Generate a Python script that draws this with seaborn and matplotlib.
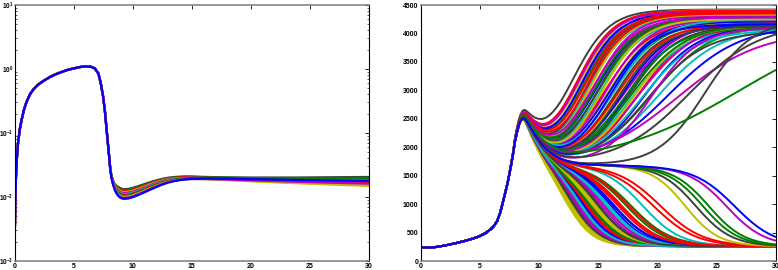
import numpy as np
import pandas as pd
import matplotlib
matplotlib.use("Agg")
import matplotlib.pyplot as plt
import seaborn as sns
from matplotlib.ticker import FixedLocator, FuncFormatter, LogLocator, NullFormatter

# ---------------- data: left panel (log scale) ----------------
left_t = [0, 0.03, 0.07, 0.12, 0.2, 0.3, 0.45, 0.6, 0.8, 1.0, 1.3, 1.6, 2.0, 2.5, 3.0,
          3.5, 4.0, 4.5, 5.0, 5.5, 6.0, 6.5, 6.8, 7.1, 7.3, 7.5, 7.65, 7.8, 7.9, 8.0,
          8.1, 8.2, 8.35, 8.5, 8.7, 8.9, 9.1, 9.3, 9.6, 10, 10.5, 11, 11.5, 12, 12.5,
          13, 13.5, 14, 14.5, 15, 16, 17, 18, 19, 20, 22, 24, 26, 28, 30]
left_base = [0.0009, 0.003, 0.009, 0.02, 0.04, 0.07, 0.115, 0.16, 0.23, 0.30, 0.40,
             0.48, 0.57, 0.66, 0.75, 0.83, 0.90, 0.97, 1.02, 1.07, 1.10, 1.08, 1.02,
             0.85, 0.60, 0.37, 0.22, 0.11, 0.07, 0.045, 0.028, 0.021, 0.0165, 0.014,
             0.0125, 0.0116, 0.0111, 0.0110, 0.0111, 0.0116, 0.0125, 0.0136, 0.0148,
             0.0160, 0.0172, 0.0182, 0.0189, 0.0194, 0.0197, 0.0198, 0.0197, 0.0195,
             0.0193, 0.0191, 0.0189, 0.0186, 0.0183, 0.0181, 0.0179, 0.0177]
left_dip_offset = [0.08, 0.065, 0.05, 0.035, 0.02, 0.005, -0.01, -0.025, -0.04, -0.055, -0.07]
left_end_offset = [0.065, 0.04, 0.025, -0.06, 0.0, 0.015, -0.025, 0.05, -0.075, -0.04, 0.005]
left_colors = ['k', 'g', 'r', 'y', 'm', 'c', 'r', 'g', 'y', 'm', 'b']

# ---------------- data: right panel (linear scale) ----------------
right_t = [0, 0.5, 1, 1.5, 2, 2.5, 3, 3.5, 4, 4.5, 5, 5.5, 6, 6.25, 6.5, 6.75, 7, 7.2,
           7.4, 7.6, 7.8, 8.0, 8.15, 8.3, 8.45, 8.6, 8.75, 8.9, 9.05, 9.2, 9.4, 9.6,
           9.8, 10, 10.3, 10.6, 10.9, 11.2, 11.5, 11.8, 12.1, 12.4, 12.7, 13, 13.5, 14,
           14.5, 15, 15.5, 16, 16.5, 17, 17.5, 18, 18.5, 19, 19.5, 20, 20.5, 21, 21.5,
           22, 22.5, 23, 23.5, 24, 24.5, 25, 25.5, 26, 26.5, 27, 27.5, 28, 28.5, 29,
           29.5, 30]
right_base = [240, 236, 238, 252, 270, 292, 315, 340, 368, 400, 437, 490, 570, 630, 710,
              860, 1060, 1230, 1410, 1620, 1850, 2120, 2260, 2380, 2465, 2505, 2510,
              2480, 2430, 2380, 2310, 2240, 2180, 2120, 2040, 1975, 1920, 1875, 1835,
              1800, 1775, 1755, 1740, 1728, 1712, 1702, 1696, 1692, 1689, 1686, 1684,
              1682, 1680, 1678, 1676, 1674, 1672, 1670, 1668, 1666, 1664, 1662, 1660,
              1658, 1656, 1654, 1652, 1650, 1648, 1646, 1644, 1642, 1640, 1638, 1636,
              1634, 1632, 1630]
floor_level = 260

# curves that switch up (switch time, switch width, final level)
up_mid = [12.6, 13.0, 13.1, 13.25, 13.4, 13.5, 13.6, 13.75, 13.9, 14.0, 14.1, 14.25,
          14.4, 14.5, 14.6, 14.75, 14.9, 15.0, 15.15, 15.3, 15.45, 15.6, 15.75, 15.9,
          16.05, 16.2, 16.3, 16.4, 16.6, 16.8, 16.9, 17.0, 17.2, 17.3, 17.5, 17.6, 17.8,
          17.9, 18.1, 18.3, 18.5, 18.7, 18.9, 19.2, 19.5, 20.0]
up_width = [1.6, 1.6, 1.6, 1.65, 1.6, 1.7, 1.65, 1.7, 1.6, 1.75, 1.7, 1.65, 1.8, 1.7,
            1.75, 1.8, 1.7, 1.85, 1.8, 1.75, 1.9, 1.8, 1.85, 1.9, 1.8, 1.95, 2.0, 1.9,
            2.0, 1.9, 2.1, 2.0, 2.2, 2.1, 2.0, 2.0, 2.3, 2.2, 2.1, 2.1, 2.4, 2.3, 2.2,
            2.4, 2.5, 2.6]
up_final = [4420, 4400, 4380, 4410, 4360, 4390, 4340, 4370, 4320, 4350, 4300, 4330,
            4280, 4310, 4260, 4290, 4240, 4270, 4220, 4250, 4200, 4230, 4180, 4210,
            4160, 4190, 4250, 4140, 4170, 4120, 4220, 4150, 4200, 4100, 4180, 4130,
            4160, 4080, 4140, 4110, 4200, 4060, 4120, 4040, 4150, 4100]
# curves that switch down to the floor (switch time, switch width)
down_mid = [12.4, 12.55, 12.7, 12.8, 12.9, 13.0, 13.1, 13.2, 13.3, 13.4, 13.5, 13.6,
            13.7, 13.8, 13.9, 14.0, 14.1, 14.2, 14.3, 14.35, 14.5, 14.65, 14.8, 14.95,
            15.0, 15.1, 15.3, 15.5, 15.6, 15.7, 15.9, 16.1, 16.3, 16.4, 16.7, 16.9,
            17.0, 17.4, 17.8]
down_width = [1.15, 1.15, 1.2, 1.15, 1.2, 1.2, 1.25, 1.2, 1.25, 1.25, 1.3, 1.25, 1.3,
              1.3, 1.35, 1.3, 1.35, 1.35, 1.45, 1.4, 1.35, 1.4, 1.4, 1.45, 1.5, 1.4,
              1.45, 1.5, 1.55, 1.45, 1.5, 1.5, 1.6, 1.55, 1.6, 1.65, 1.6, 1.65, 1.7]
# slow / late curves
late_up_mid = [20.9, 21.6, 19.5, 22.6, 24.0, 26.75]
late_up_width = [3.0, 3.5, 2.0, 3.0, 2.0, 5.4]
late_up_final = [4150, 4050, 4100, 4180, 4230, 4300]
late_down_mid = [18.8, 17.6, 19.7, 20.3, 22.4, 23.3, 23.9, 24.4, 25.9, 26.6]
late_down_width = [1.6, 1.7, 1.8, 1.8, 1.4, 1.5, 1.5, 1.5, 1.6, 1.7]

# ---------------- style ----------------
MATLAB = {'b': (0, 0, 1), 'g': (0, 0.5, 0), 'r': (1, 0, 0), 'c': (0, 0.75, 0.75),
          'm': (0.75, 0, 0.75), 'y': (0.75, 0.75, 0), 'k': (0.25, 0.25, 0.25)}
cycle = ['k', 'y', 'g', 'r', 'b', 'c', 'm']
late_up_colors = ['b', 'm', 'm', 'k', 'k', 'g']
late_down_colors = ['c', 'r', 'r', 'r', 'y', 'k', 'g', 'g', 'm', 'b']

sns.set_theme(style="white")
plt.rcParams['font.family'] = ['Liberation Sans', 'DejaVu Sans']
plt.rcParams['mathtext.fontset'] = 'custom'
plt.rcParams['mathtext.rm'] = 'Liberation Sans:bold'
plt.rcParams['mathtext.it'] = 'Liberation Sans:bold'
plt.rcParams['mathtext.bf'] = 'Liberation Sans:bold'


def logistic(z):
    return 1.0 / (1.0 + np.exp(-z))


# ---------- build left data ----------
lt = np.array(left_t)
lb = np.log10(np.array(left_base))
dip_w = np.clip((lt - 8.0) / 0.8, 0, 1) * np.where(lt < 9.3, 1.0, np.exp(-((lt - 9.3) / 4.5) ** 2))
end_w = np.clip((lt - 13.0) / 17.0, 0, 1)
rows = []
for i, (a, b) in enumerate(zip(left_dip_offset, left_end_offset)):
    y = 10 ** (lb + a * dip_w + b * end_w)
    for tt, yy in zip(lt, y):
        rows.append((tt, yy, i))
df_left = pd.DataFrame(rows, columns=['t', 'y', 'curve'])
left_palette = {i: MATLAB[c] for i, c in enumerate(left_colors)}

# ---------- build right data ----------
rt = np.array(right_t)
rb = np.array(right_base, dtype=float)
gate_up = logistic((rt - 8.0) / 0.3)
gate_down = logistic((rt - 8.9) / 0.2)

curves = []  # (y array, color letter)
up_curves = []
for m, w, L in zip(up_mid, up_width, up_final):
    up_curves.append(rb + (L - rb) * logistic((rt - m) / w) * gate_up)
down_curves = []
for m, w in zip(down_mid, down_width):
    down_curves.append(rb + (floor_level - rb) * logistic((rt - m) / w) * gate_down)

nu, nd = len(up_curves), len(down_curves)
order_u = [(i * 17) % nu for i in range(nu)]
order_d = [(i * 14) % nd for i in range(nd)]
mixed = []
for k in range(max(nu, nd)):
    if k < nu:
        mixed.append(up_curves[order_u[k]])
    if k < nd:
        mixed.append(down_curves[order_d[k]])
for k, y in enumerate(mixed):
    curves.append((y, cycle[k % 7]))
for m, w, L, c in zip(late_up_mid, late_up_width, late_up_final, late_up_colors):
    curves.append((rb + (L - rb) * logistic((rt - m) / w) * gate_up, c))
for m, w, c in zip(late_down_mid, late_down_width, late_down_colors):
    curves.append((rb + (floor_level - rb) * logistic((rt - m) / w) * gate_down, c))

rows = []
right_palette = {}
for i, (y, c) in enumerate(curves):
    right_palette[i] = MATLAB[c]
    for tt, yy in zip(rt, y):
        rows.append((tt, yy, i))
df_right = pd.DataFrame(rows, columns=['t', 'y', 'curve'])

# ---------------- figure ----------------
W, H = 778, 270
fig = plt.figure(figsize=(W / 100, H / 100), dpi=100)
ax1 = fig.add_axes([14.5 / W, 9 / H, 354.5 / W, 256 / H])
ax2 = fig.add_axes([420.5 / W, 9 / H, 355 / W, 256 / H])

sns.lineplot(data=df_left, x='t', y='y', hue='curve', palette=left_palette,
             hue_order=list(range(len(left_colors))), estimator=None, legend=False,
             linewidth=1.6, ax=ax1)
sns.lineplot(data=df_right, x='t', y='y', hue='curve', palette=right_palette,
             hue_order=list(range(len(curves))), estimator=None, legend=False,
             linewidth=1.4, ax=ax2)

ax1.set_yscale('log')
ax1.set_ylim(1e-3, 1e1)
ax1.set_xlim(0, 30)
ax1.yaxis.set_major_locator(FixedLocator([1e-3, 1e-2, 1e-1, 1e0, 1e1]))
ax1.yaxis.set_major_formatter(FuncFormatter(lambda v, p: r'$10^{%d}$' % int(round(np.log10(v)))))
ax1.yaxis.set_minor_locator(LogLocator(base=10, subs=np.arange(2, 10), numticks=20))
ax1.yaxis.set_minor_formatter(NullFormatter())

ax2.set_ylim(0, 4500)
ax2.set_xlim(0, 30)
ax2.yaxis.set_major_locator(FixedLocator(np.arange(0, 4501, 500)))

for ax in (ax1, ax2):
    ax.set_xlabel('')
    ax.set_ylabel('')
    ax.xaxis.set_major_locator(FixedLocator(np.arange(0, 31, 5)))
    ax.tick_params(which='major', direction='in', top=True, right=True, length=3,
                   width=0.6, labelsize=5, pad=1.5, colors='black')
    ax.tick_params(which='minor', direction='in', left=True, right=True, length=1.6,
                   width=0.5)
    for lab in ax.get_xticklabels() + ax.get_yticklabels():
        lab.set_fontweight('bold')
    ax.set_facecolor('white')
    for s in ('top', 'bottom'):
        ax.spines[s].set_color('#7a7a7a')
        ax.spines[s].set_linewidth(1.1)
    for s in ('left', 'right'):
        ax.spines[s].set_color('black')
        ax.spines[s].set_linewidth(0.8)

ax1.tick_params(axis='y', which='major', labelsize=4.7, pad=0.6)

fig.savefig('out.png', dpi=100, facecolor='white')
